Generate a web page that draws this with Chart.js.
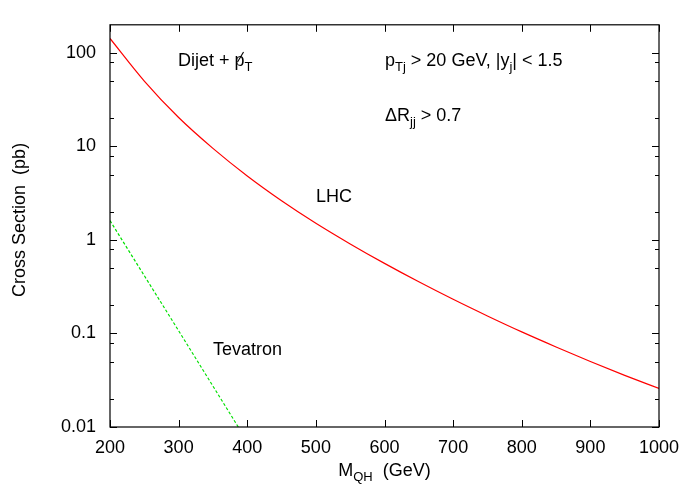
<!DOCTYPE html>
<html lang="en">
<head>
    <meta charset="UTF-8">
    <title>Dijet + missing pT cross section</title>
    <script src="https://cdn.jsdelivr.net/npm/chart.js"></script>
    <style>
        body { margin: 0; padding: 0; background: white; }
        #wrap { width: 692px; height: 485px; }
    </style>
</head>
<body>
    <div id="wrap"><canvas id="xsecChart" width="692" height="485"></canvas></div>

    <script>
        // values
        const massGeV = [200, 250, 300, 350, 400, 450, 500, 550, 600, 650, 700, 750, 800, 850, 900, 950, 1000];
        const lhcPb = [143, 50.1, 20.4, 9.55, 4.84, 2.63, 1.51, 0.908, 0.562, 0.357, 0.232, 0.154, 0.104, 0.0718, 0.0502, 0.0357, 0.0258];
        const tevatronMass = [200, 250, 300, 350, 400];
        const tevatronPb = [1.61, 0.415, 0.107, 0.0274, 0.0070];

        const xTickValues = [200, 300, 400, 500, 600, 700, 800, 900, 1000];
        const yMajorTicks = [0.01, 0.1, 1, 10, 100];
        const yMinorTicks = [0.02, 0.05, 0.08, 0.2, 0.5, 0.8, 2, 5, 8, 20, 50, 80];

        const FONT = "'Liberation Sans', Arial, sans-serif";

        function toPoints(xs, ys) {
            return xs.map((x, i) => ({ x: x, y: ys[i] }));
        }

        // frame with inward ticks on all four sides, plus the text labels
        const framePlugin = {
            id: "frame",
            afterDraw(chart) {
                const ctx = chart.ctx;
                const a = chart.chartArea;
                const xs = chart.scales.x, ys = chart.scales.y;
                ctx.save();
                ctx.strokeStyle = "#000";
                ctx.lineWidth = 1;
                ctx.beginPath();
                xTickValues.forEach(v => {
                    const px = Math.round(xs.getPixelForValue(v)) + 0.5;
                    ctx.moveTo(px, a.bottom); ctx.lineTo(px, a.bottom - 7);
                    ctx.moveTo(px, a.top); ctx.lineTo(px, a.top + 7);
                });
                yMajorTicks.concat(yMinorTicks).forEach(v => {
                    const len = yMajorTicks.includes(v) ? 7 : 4;
                    const py = Math.round(ys.getPixelForValue(v)) + 0.5;
                    ctx.moveTo(a.left, py); ctx.lineTo(a.left + len, py);
                    ctx.moveTo(a.right, py); ctx.lineTo(a.right - len, py);
                });
                ctx.stroke();
                ctx.lineWidth = 1.2;
                ctx.strokeRect(a.left, a.top, a.right - a.left, a.bottom - a.top);

                ctx.fillStyle = "#000";
                ctx.textBaseline = "alphabetic";
                ctx.textAlign = "left";
                const big = "18px " + FONT, small = "13px " + FONT;

                // draws runs of [text, isSub] starting at x, returns end x
                function runs(x, y, parts) {
                    parts.forEach(p => {
                        ctx.font = p[1] ? small : big;
                        ctx.fillText(p[0], x, y + (p[1] ? 5 : 0));
                        x += ctx.measureText(p[0]).width;
                    });
                    return x;
                }
                function runsWidth(parts) {
                    let w = 0;
                    parts.forEach(p => { ctx.font = p[1] ? small : big; w += ctx.measureText(p[0]).width; });
                    return w;
                }

                // Dijet + pT-slash
                let x = runs(178, 66, [["Dijet + ", false]]);
                ctx.font = big;
                const pw = ctx.measureText("p").width;
                ctx.fillText("p", x, 66);
                ctx.beginPath();
                ctx.lineWidth = 1.1;
                ctx.moveTo(x + 3, 62);
                ctx.lineTo(x + pw - 1, 52);
                ctx.stroke();
                runs(x + pw, 66, [["T", true]]);

                runs(385, 66, [["p", false], ["Tj", true], [" > 20 GeV, |y", false], ["j", true], ["| < 1.5", false]]);
                runs(385, 121, [["\u0394R", false], ["jj", true], [" > 0.7", false]]);
                runs(316, 202, [["LHC", false]]);
                runs(213, 355, [["Tevatron", false]]);

                // x axis title
                const xt = [["M", false], ["QH", true], ["  (GeV)", false]];
                runs((a.left + a.right) / 2 - runsWidth(xt) / 2, 476, xt);

                // y axis title
                ctx.translate(25, (a.top + a.bottom) / 2 - 6);
                ctx.rotate(-Math.PI / 2);
                ctx.font = big;
                ctx.textAlign = "center";
                ctx.fillText("Cross Section  (pb)", 0, 0);
                ctx.restore();
            }
        };

        const ctx = document.getElementById("xsecChart").getContext("2d");
        new Chart(ctx, {
            type: "line",
            data: {
                datasets: [
                    {
                        label: "LHC",
                        data: toPoints(massGeV, lhcPb),
                        borderColor: "#ff0000",
                        borderWidth: 1.2,
                        pointRadius: 0,
                        cubicInterpolationMode: "monotone",
                        fill: false
                    },
                    {
                        label: "Tevatron",
                        data: toPoints(tevatronMass, tevatronPb),
                        borderColor: "#00e000",
                        borderWidth: 1.2,
                        borderDash: [3, 2],
                        pointRadius: 0,
                        tension: 0,
                        fill: false
                    }
                ]
            },
            options: {
                responsive: false,
                animation: false,
                layout: { padding: { top: 23, right: 33, left: 0, bottom: 0 } },
                plugins: { legend: { display: false }, tooltip: { enabled: false } },
                scales: {
                    x: {
                        type: "linear",
                        min: 200,
                        max: 1000,
                        afterBuildTicks: s => { s.ticks = xTickValues.map(v => ({ value: v })); },
                        afterFit: s => { s.height = 58; },
                        grid: { display: false, drawTicks: false },
                        border: { display: false },
                        ticks: {
                            color: "#000",
                            font: { family: FONT, size: 18 },
                            padding: 10,
                            maxRotation: 0,
                            callback: v => String(v)
                        }
                    },
                    y: {
                        type: "logarithmic",
                        min: 0.01,
                        max: 200,
                        afterBuildTicks: s => { s.ticks = yMajorTicks.map(v => ({ value: v })); },
                        afterFit: s => { s.width = 110; },
                        grid: { display: false, drawTicks: false },
                        border: { display: false },
                        ticks: {
                            color: "#000",
                            font: { family: FONT, size: 18 },
                            padding: 14,
                            callback: v => String(v)
                        }
                    }
                }
            },
            plugins: [framePlugin]
        });
    </script>
</body>
</html>
